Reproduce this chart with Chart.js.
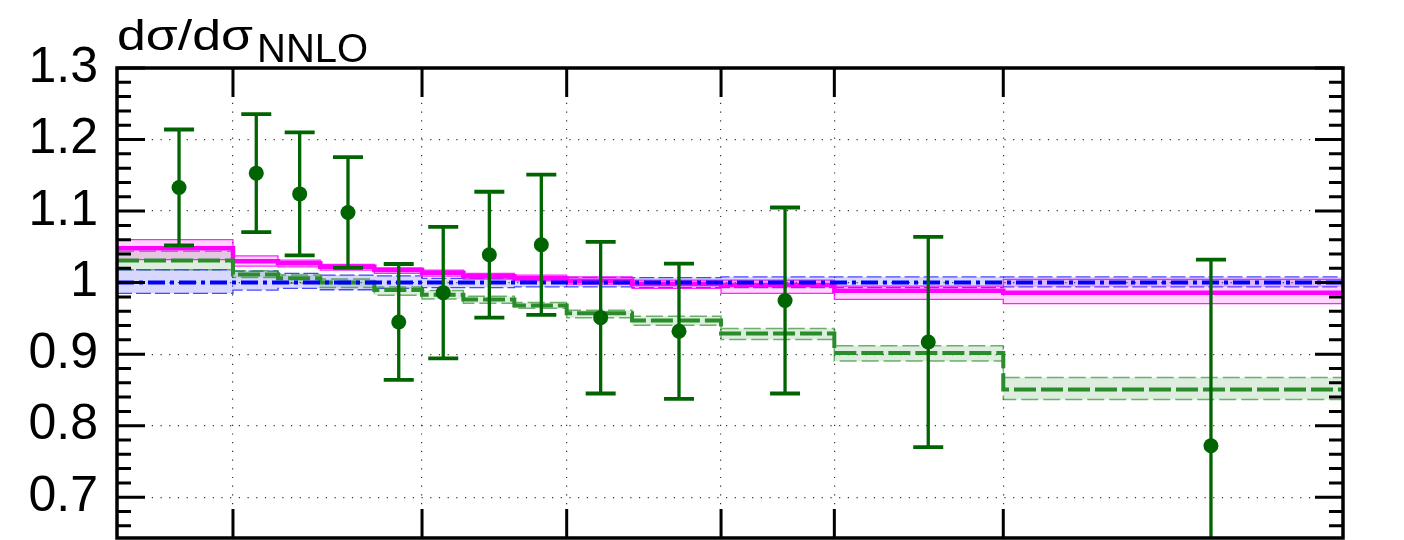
<!DOCTYPE html>
<html>
<head>
<meta charset="utf-8">
<script src="https://cdn.jsdelivr.net/npm/chart.js@4.4.1/dist/chart.umd.min.js"></script>
<style>
  html, body { margin: 0; padding: 0; background: #ffffff; }
  #wrap { width: 1404px; height: 540px; }
</style>
</head>
<body>
<div id="wrap"><canvas id="ratio" width="1404" height="540"></canvas></div>
<script>
// Bin edges along x (arbitrary units) and the edges that carry grid lines / ticks
const binEdges = [0, 9.46, 13.13, 16.58, 20.99, 24.88, 28.25, 32.41, 36.68, 42.01, 49.27, 58.51, 72.29, 100];
const gridEdges = [9.46, 24.88, 36.68, 49.27, 58.51, 72.29];

// Y axis labels
const yTickValues = [0.7, 0.8, 0.9, 1.0, 1.1, 1.2, 1.3];
const yTickLabels = ['0.7', '0.8', '0.9', '1', '1.1', '1.2', '1.3'];

// Magenta prediction: central value and uncertainty band, per bin
const magentaCentral = [1.048, 1.030, 1.027, 1.022, 1.0175, 1.0137, 1.009, 1.006, 1.0025, 0.998, 0.9965, 0.9885, 0.9858];
const magentaUp      = [1.060, 1.0375, 1.0315, 1.0255, 1.0207, 1.0175, 1.013, 1.0105, 1.008, 1.0035, 1.0035, 0.995, 1.0045];
const magentaDown    = [1.032, 1.023, 1.022, 1.0175, 1.013, 1.009, 1.005, 1.0025, 0.998, 0.992, 0.985, 0.9765, 0.9705];

// Green prediction
const greenCentral = [1.031, 1.0115, 1.006, 1.000, 0.9895, 0.983, 0.9765, 0.968, 0.957, 0.947, 0.929, 0.9015, 0.8507];
const greenUp      = [1.044, 1.0165, 1.0105, 1.005, 0.994, 0.989, 0.981, 0.9723, 0.9615, 0.953, 0.936, 0.9117, 0.8675];
const greenDown    = [1.018, 1.007, 0.999, 0.993, 0.9825, 0.977, 0.971, 0.964, 0.951, 0.9405, 0.9205, 0.8903, 0.8367];

// Blue reference (NNLO) with its scale band
const blueCentral = [1, 1, 1, 1, 1, 1, 1, 1, 1, 1, 1, 1, 1];
const blueUp      = [1.018, 1.016, 1.013, 1.0105, 1.0095, 1.006, 1.006, 1.007, 1.0073, 1.007, 1.008, 1.008, 1.008];
const blueDown    = [0.985, 0.9895, 0.992, 0.990, 0.992, 0.993, 0.993, 0.994, 0.994, 0.993, 0.993, 0.993, 0.994];

// Measured ratio with symmetric errors
const dataX   = [5.06, 11.36, 14.90, 18.84, 22.98, 26.61, 30.37, 34.61, 39.45, 45.84, 54.49, 66.17, 89.23];
const dataY   = [1.133, 1.153, 1.124, 1.098, 0.945, 0.986, 1.039, 1.053, 0.951, 0.932, 0.975, 0.917, 0.772];
const dataErr = [0.081, 0.0825, 0.086, 0.0775, 0.081, 0.092, 0.088, 0.098, 0.106, 0.0945, 0.130, 0.147, 0.260];

const FONT = "'Liberation Sans', Arial, Helvetica, sans-serif";

// histogram-like step points: value i holds on [edge i, edge i+1]
function steps(vals) {
  return binEdges.map((x, i) => ({ x, y: vals[Math.min(i, vals.length - 1)] }));
}

function bandPair(up, down, edgeColor, fillColor, dash, width, order) {
  return [
    { type: 'line', data: steps(up), stepped: true, borderColor: edgeColor, borderWidth: width,
      borderDash: dash, pointRadius: 0, fill: false, order },
    { type: 'line', data: steps(down), stepped: true, borderColor: edgeColor, borderWidth: width,
      borderDash: dash, pointRadius: 0, fill: '-1', backgroundColor: fillColor, order }
  ];
}

const datasets = [
  ...bandPair(blueUp, blueDown, 'rgba(40,40,255,0.85)', 'rgba(60,60,255,0.20)', [15, 4], 1.3, 6),
  ...bandPair(greenUp, greenDown, 'rgba(34,139,34,0.65)', 'rgba(34,139,34,0.15)', [17, 5], 1.5, 5),
  ...bandPair(magentaUp, magentaDown, 'rgba(255,0,255,0.85)', 'rgba(255,0,255,0.17)', [], 1.3, 4),
  { type: 'line', data: steps(magentaCentral), stepped: true, borderColor: '#ff00ff', borderWidth: 4.5,
    pointRadius: 0, fill: false, order: 3 },
  { type: 'line', data: steps(greenCentral), stepped: true, borderColor: '#2a8c2a', borderWidth: 4,
    borderDash: [22, 5], pointRadius: 0, fill: false, order: 2 },
  { type: 'line', data: steps(blueCentral), stepped: true, borderColor: '#0000ff', borderWidth: 4,
    borderDash: [17, 5, 4, 5], pointRadius: 0, fill: false, order: 1 },
  { type: 'scatter', label: 'Data', data: dataX.map((x, i) => ({ x, y: dataY[i] })),
    pointRadius: 7.5, pointBackgroundColor: '#006400', pointBorderColor: '#006400', pointBorderWidth: 0, order: 0 }
];

// vertical error bars with caps, drawn just beneath the markers
const errorBars = {
  id: 'errorBars',
  beforeDatasetDraw(chart, args) {
    if (chart.data.datasets[args.index].label !== 'Data') return;
    const { ctx, chartArea: a, scales: { x, y } } = chart;
    ctx.save();
    ctx.beginPath();
    ctx.rect(a.left, a.top, a.width, a.height);
    ctx.clip();
    ctx.strokeStyle = '#006400';
    ctx.lineCap = 'butt';
    dataX.forEach((xv, i) => {
      const px = x.getPixelForValue(xv);
      const pHi = y.getPixelForValue(dataY[i] + dataErr[i]);
      const pLo = y.getPixelForValue(dataY[i] - dataErr[i]);
      ctx.lineWidth = 3.3;
      ctx.beginPath();
      ctx.moveTo(px, pHi);
      ctx.lineTo(px, pLo);
      ctx.stroke();
      ctx.lineWidth = 3.8;
      ctx.beginPath();
      ctx.moveTo(px - 15, pHi); ctx.lineTo(px + 15, pHi);
      ctx.moveTo(px - 15, pLo); ctx.lineTo(px + 15, pLo);
      ctx.stroke();
    });
    ctx.restore();
  }
};

// frame with inward ticks on all four sides, and the axis title
const frameAndTitle = {
  id: 'frameAndTitle',
  afterDraw(chart) {
    const { ctx, chartArea: a, scales: { x, y } } = chart;
    ctx.save();
    ctx.strokeStyle = '#000';
    ctx.lineCap = 'butt';
    ctx.lineWidth = 3;
    ctx.beginPath();
    for (let k = 33; k <= 65; k++) {
      const v = k / 50;
      const py = y.getPixelForValue(v);
      if (py < a.top - 0.5 || py > a.bottom + 0.5) continue;
      const major = k % 5 === 0;
      const len = major ? 28 : 14;
      ctx.moveTo(a.left, py); ctx.lineTo(a.left + len, py);
      ctx.moveTo(a.right, py); ctx.lineTo(a.right - len, py);
    }
    gridEdges.forEach(v => {
      const px = x.getPixelForValue(v);
      ctx.moveTo(px, a.top); ctx.lineTo(px, a.top + 29);
      ctx.moveTo(px, a.bottom); ctx.lineTo(px, a.bottom - 29);
    });
    ctx.stroke();
    ctx.lineWidth = 3.5;
    ctx.strokeRect(a.left, a.top, a.right - a.left, a.bottom - a.top);

    // title: dσ/dσ with subscript NNLO
    ctx.fillStyle = '#000';
    ctx.textBaseline = 'alphabetic';
    ctx.textAlign = 'left';
    ctx.font = `43px ${FONT}`;
    const main = 'dσ/dσ';
    const w = ctx.measureText(main).width;
    const sx = 136 / w;
    ctx.save();
    ctx.translate(117, 50);
    ctx.scale(sx, 1);
    ctx.fillText(main, 0, 0);
    ctx.restore();
    ctx.font = `40px ${FONT}`;
    ctx.fillText('NNLO', 117 + 136 + 4, 62);
    ctx.restore();
  }
};

new Chart(document.getElementById('ratio'), {
  data: { datasets },
  options: {
    responsive: false,
    animation: false,
    devicePixelRatio: 1,
    layout: { autoPadding: false, padding: { left: 0, top: 68, right: 61, bottom: 2 } },
    plugins: { legend: { display: false }, tooltip: { enabled: false }, title: { display: false } },
    scales: {
      x: {
        type: 'linear', min: binEdges[0], max: binEdges[binEdges.length - 1],
        afterBuildTicks: s => { s.ticks = gridEdges.map(v => ({ value: v })); },
        afterFit: s => { s.height = 0; s.paddingLeft = 0; s.paddingRight = 0; s.paddingTop = 0; s.paddingBottom = 0; },
        ticks: { display: false },
        grid: { color: '#333', lineWidth: 1.2, drawTicks: false },
        border: { display: false, dash: [1.2, 7.5] }
      },
      y: {
        type: 'linear', min: 0.643, max: 1.3,
        afterBuildTicks: s => { s.ticks = yTickValues.map(v => ({ value: v })); },
        afterFit: s => { s.width = 117; s.paddingTop = 0; s.paddingBottom = 0; },
        ticks: {
          padding: 19, color: '#000',
          font: { family: FONT, size: 50 },
          callback: (v, i) => yTickLabels[i]
        },
        grid: { color: '#333', lineWidth: 1.2, drawTicks: false },
        border: { display: false, dash: [1.2, 7.5] }
      }
    }
  },
  plugins: [errorBars, frameAndTitle]
});
</script>
</body>
</html>
